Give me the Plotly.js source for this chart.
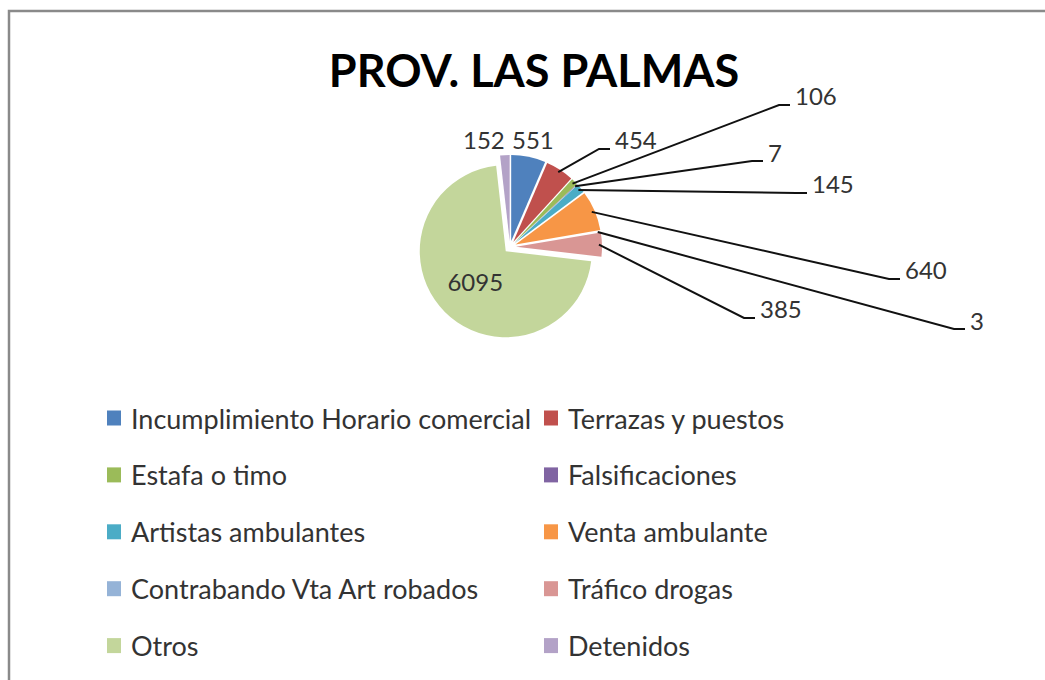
<!DOCTYPE html>
<html><head><meta charset="utf-8">
<script src="https://cdn.plot.ly/plotly-3.0.1.min.js"></script>
<style>html,body{margin:0;padding:0;background:#fff;overflow:hidden}#chart{width:1045px;height:680px}</style>
</head><body><div id="chart"></div>
<script>
// ---- data ----
const categories = ['Incumplimiento Horario comercial','Terrazas y puestos','Estafa o timo','Falsificaciones','Artistas ambulantes','Venta ambulante','Contrabando Vta Art robados','Tráfico drogas','Otros','Detenidos'];
const values = [551, 454, 106, 7, 145, 640, 3, 385, 6095, 152];
const colors = ['#4F81BD','#C0504D','#9BBB59','#8064A2','#4BACC6','#F79646','#95B3D7','#D99694','#C3D69B','#B3A2C7'];
const chartTitle = 'PROV. LAS PALMAS';

// ---- layout settings (pixels) ----
const W = 1045, H = 680;
const FONT = 'Lato, "Noto Sans", sans-serif';
const pieCx = 510, pieCy = 247, pieHalf = 92, pullAmt = 0.07;
const labelSpots = [
  {x:510, y:140, leader:false},
  {x:613, y:140, leader:true},
  {x:793, y:96,  leader:true},
  {x:766, y:152, leader:true},
  {x:810, y:184, leader:true},
  {x:903, y:270, leader:true},
  {x:968, y:320, leader:true},
  {x:758, y:309, leader:true},
  null,
  {x:461, y:140, leader:false}
];
const legendCols = [107, 544], legendTop = 418, legendStep = 56.9, swatchW = 14, swatchH = 15;

const px = v => v / W;
const py = v => 1 - v / H;

const total = values.reduce((a, b) => a + b, 0);
const annotations = [];
const shapes = [];

// frame
shapes.push({type:'path', xref:'paper', yref:'paper',
  path:`M ${px(9)},${py(690)} L ${px(9)},${py(11)} L ${px(1060)},${py(11)}`,
  line:{color:'#8a8a8a', width:2.5}});

// data labels with leader lines
let cum = 0;
values.forEach((v, i) => {
  const mid = (cum + v / 2) / total * 2 * Math.PI;
  cum += v;
  const spot = labelSpots[i];
  if (!spot) return;
  annotations.push({xref:'paper', yref:'paper', x:px(spot.x), y:py(spot.y), xanchor:'left', yanchor:'middle',
    text:String(v), showarrow:false, font:{family:FONT, size:24, color:'#333333'}});
  if (spot.leader) {
    const ax = pieCx + (pieHalf - 3) * Math.sin(mid);
    const ay = pieCy - (pieHalf - 3) * Math.cos(mid);
    const ey = spot.y + 9;
    shapes.push({type:'path', xref:'paper', yref:'paper',
      path:`M ${px(ax)},${py(ay)} L ${px(spot.x - 14)},${py(ey)} L ${px(spot.x - 3)},${py(ey)}`,
      line:{color:'#111111', width:2}});
  }
});

// legend
categories.forEach((c, i) => {
  const left = legendCols[i % 2];
  const cy = legendTop + Math.floor(i / 2) * legendStep;
  shapes.push({type:'rect', xref:'paper', yref:'paper', x0:px(left), x1:px(left + swatchW),
    y0:py(cy + swatchH / 2), y1:py(cy - swatchH / 2), fillcolor:colors[i], line:{width:0}});
  annotations.push({xref:'paper', yref:'paper', x:px(left + swatchW + 8), y:py(cy), xanchor:'left', yanchor:'middle',
    text:c, showarrow:false, font:{family:FONT, size:27, color:'#333333'}});
});

const trace = {
  type:'pie',
  labels:categories,
  values:values,
  sort:false,
  direction:'clockwise',
  rotation:0,
  pull:values.map(() => pullAmt),
  marker:{colors:colors, line:{width:0}},
  textinfo:'value',
  textposition:categories.map(c => c === 'Otros' ? 'inside' : 'none'),
  insidetextfont:{family:FONT, size:24, color:'#333333'},
  domain:{x:[px(pieCx - pieHalf), px(pieCx + pieHalf)], y:[py(pieCy + pieHalf), py(pieCy - pieHalf)]},
  showlegend:false,
  hoverinfo:'label+value'
};

const layout = {
  width:W, height:H,
  margin:{l:0, r:0, t:0, b:0},
  paper_bgcolor:'#ffffff',
  showlegend:false,
  title:{text:chartTitle, x:px(534), xanchor:'center', y:py(71), yanchor:'middle', yref:'paper',
    font:{family:FONT, size:45, color:'#000000', weight:'bold'}},
  annotations:annotations,
  shapes:shapes
};

Plotly.newPlot('chart', [trace], layout, {displayModeBar:false, staticPlot:true});
</script>
</body></html>
